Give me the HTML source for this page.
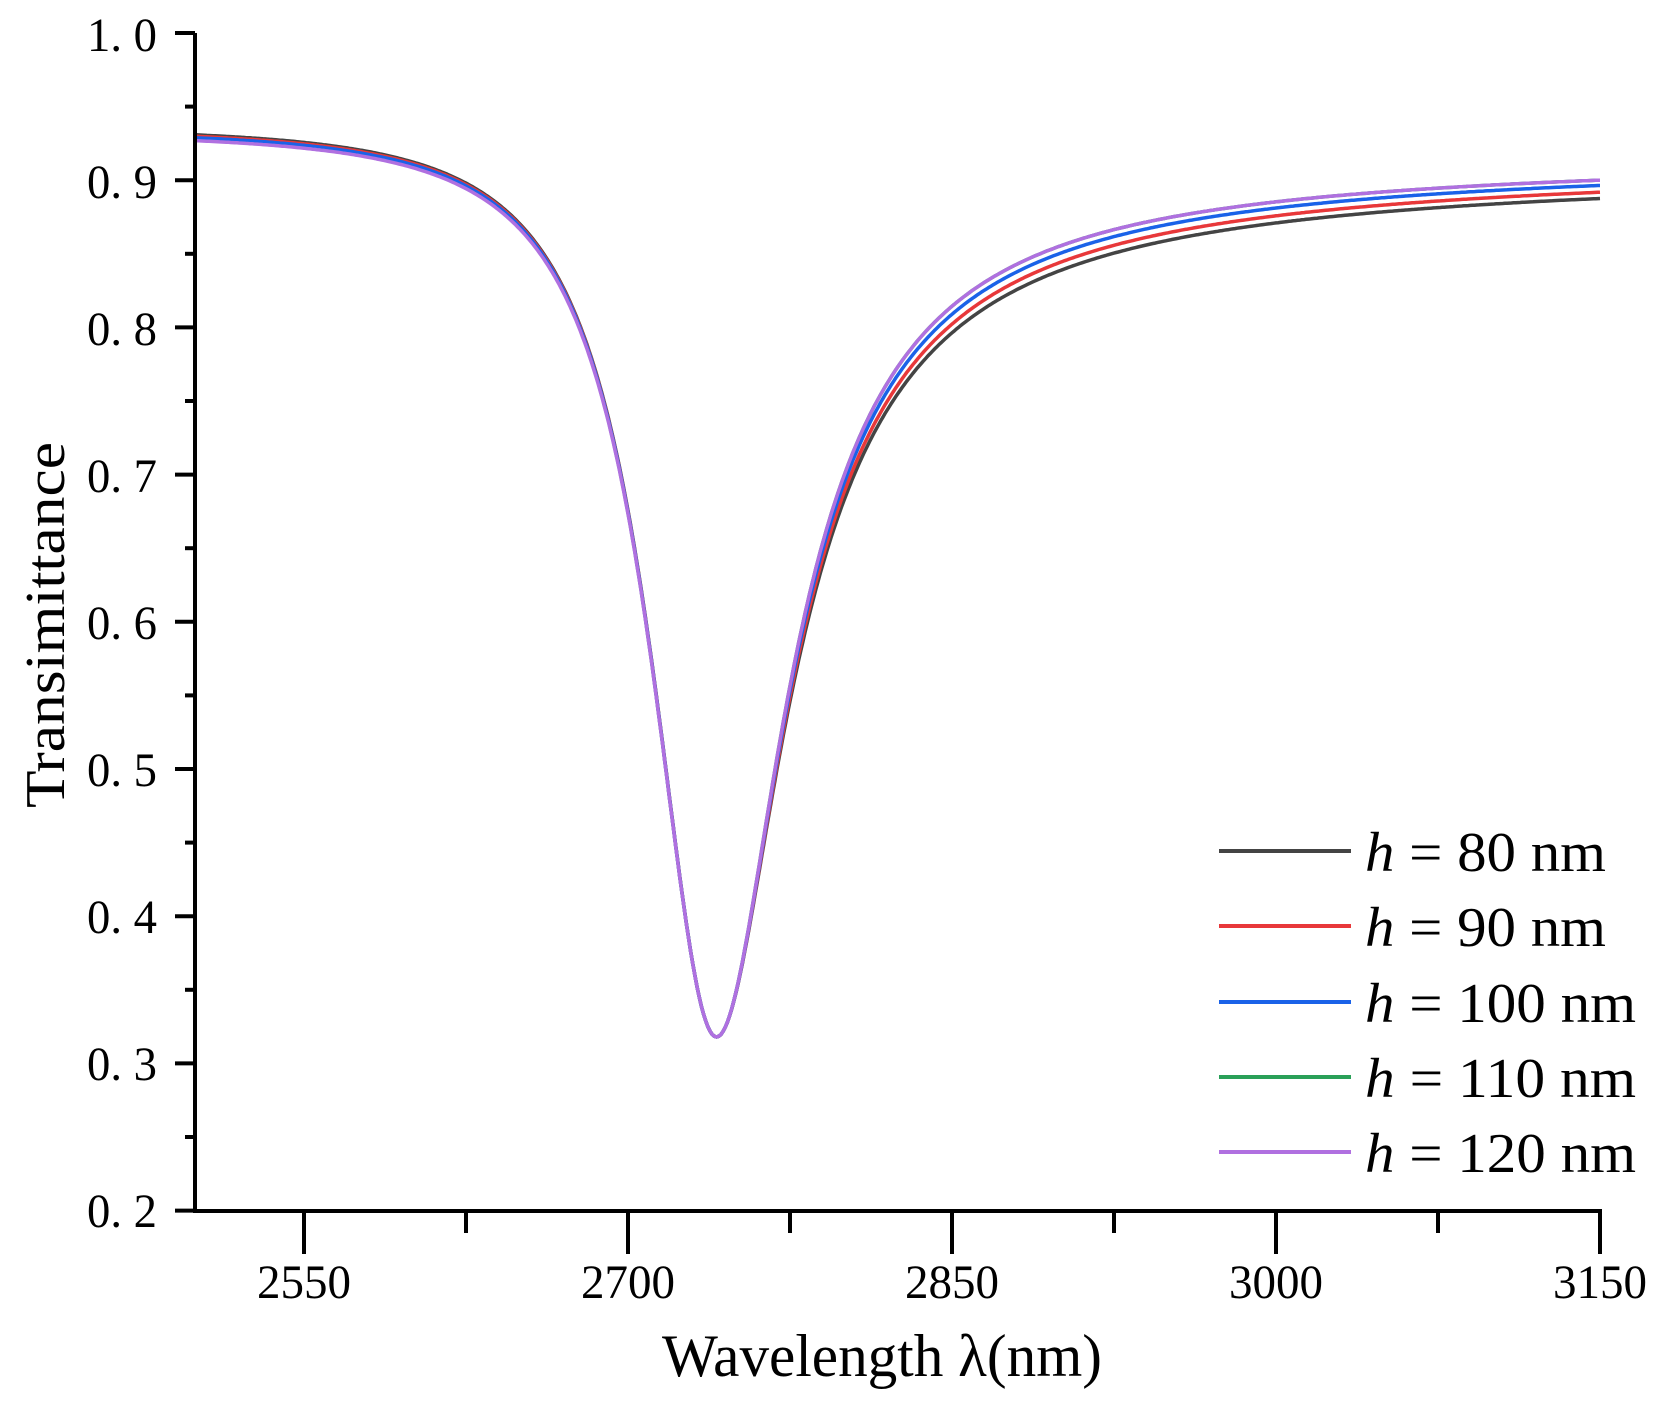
<!DOCTYPE html>
<html><head><meta charset="utf-8"><style>
html,body{margin:0;padding:0;background:#fff;}
svg{display:block;font-family:"Liberation Serif",serif;}
</style></head><body>
<svg id="s" width="1662" height="1410" viewBox="0 0 1662 1410" xmlns="http://www.w3.org/2000/svg">
<g font-size="48" fill="#000" text-anchor="end">
<text x="157" y="51" textLength="70" lengthAdjust="spacingAndGlyphs">1. 0</text>
<text x="157" y="198" textLength="70" lengthAdjust="spacingAndGlyphs">0. 9</text>
<text x="157" y="345" textLength="70" lengthAdjust="spacingAndGlyphs">0. 8</text>
<text x="157" y="492" textLength="70" lengthAdjust="spacingAndGlyphs">0. 7</text>
<text x="157" y="639" textLength="70" lengthAdjust="spacingAndGlyphs">0. 6</text>
<text x="157" y="786" textLength="70" lengthAdjust="spacingAndGlyphs">0. 5</text>
<text x="157" y="933" textLength="70" lengthAdjust="spacingAndGlyphs">0. 4</text>
<text x="157" y="1080" textLength="70" lengthAdjust="spacingAndGlyphs">0. 3</text>
<text x="157" y="1227" textLength="70" lengthAdjust="spacingAndGlyphs">0. 2</text>
</g>
<g font-size="48" text-anchor="middle">
<text x="304" y="1298" textLength="94" lengthAdjust="spacingAndGlyphs">2550</text>
<text x="628" y="1298" textLength="94" lengthAdjust="spacingAndGlyphs">2700</text>
<text x="952" y="1298" textLength="94" lengthAdjust="spacingAndGlyphs">2850</text>
<text x="1276" y="1298" textLength="94" lengthAdjust="spacingAndGlyphs">3000</text>
<text x="1600" y="1298" textLength="94" lengthAdjust="spacingAndGlyphs">3150</text>
</g>
<text x="882" y="1376" font-size="60" text-anchor="middle" textLength="440" lengthAdjust="spacingAndGlyphs">Wavelength λ(nm)</text>
<text transform="translate(64,625) rotate(-90)" font-size="56" text-anchor="middle" textLength="366" lengthAdjust="spacingAndGlyphs">Transimittance</text>
<g id="curves" fill="none" stroke-width="3.5"></g>
<g stroke="#000" stroke-width="4" fill="none" id="ax">
<path d="M195,33 V1211 H1602"/>
</g>
<g font-size="56">
<line x1="1219" y1="851" x2="1351" y2="851" stroke="#444" stroke-width="4"/>
<line x1="1219" y1="926" x2="1351" y2="926" stroke="#e8383a" stroke-width="4"/>
<line x1="1219" y1="1002" x2="1351" y2="1002" stroke="#1a62e8" stroke-width="4"/>
<line x1="1219" y1="1077" x2="1351" y2="1077" stroke="#2aa058" stroke-width="4"/>
<line x1="1219" y1="1152" x2="1351" y2="1152" stroke="#b070e0" stroke-width="4"/>
<text x="1365" y="871" textLength="241" lengthAdjust="spacingAndGlyphs"><tspan font-style="italic">h</tspan> = 80 nm</text>
<text x="1365" y="946" textLength="241" lengthAdjust="spacingAndGlyphs"><tspan font-style="italic">h</tspan> = 90 nm</text>
<text x="1365" y="1022" textLength="271" lengthAdjust="spacingAndGlyphs"><tspan font-style="italic">h</tspan> = 100 nm</text>
<text x="1365" y="1097" textLength="271" lengthAdjust="spacingAndGlyphs"><tspan font-style="italic">h</tspan> = 110 nm</text>
<text x="1365" y="1172" textLength="271" lengthAdjust="spacingAndGlyphs"><tspan font-style="italic">h</tspan> = 120 nm</text>
</g>
</svg>
<script>
var ax=document.getElementById('ax');
function L(x1,y1,x2,y2){var p=document.createElementNS('http://www.w3.org/2000/svg','line');p.setAttribute('x1',x1);p.setAttribute('y1',y1);p.setAttribute('x2',x2);p.setAttribute('y2',y2);ax.appendChild(p);}
for(var i=0;i<=16;i++){var y=33+i*73.6;L(i%2?185:175,y,195,y);}
for(var i=0;i<=8;i++){var x=304+i*162;L(x,1211,x,i%2?1233:1254);}
var X=function(l){return 304+(l-2550)*324/150;},Y=function(t){return 33+(1-t)*1472;};
var cols=['#444','#e8383a','#1a62e8','#2aa058','#b070e0'];
var coef=[0.18,0.165,0.148,0.134,0.134];
var g=document.getElementById('curves');
[0,1,3,2,4].forEach(function(k){
 var d='';
 for(var l=2499;l<=3150;l+=1){
  var dl=l-2741,w,base;
  if(dl<0){w=Math.max(18,38+0.075*dl);base=0.935-0.001*k;}
  else{w=38+coef[k]*dl;base=0.93;}
  var t=base-(base-0.318)/(1+(dl/w)*(dl/w));
  d+=(d?'L':'M')+X(l).toFixed(1)+','+Y(t).toFixed(1);
 }
 var p=document.createElementNS('http://www.w3.org/2000/svg','path');
 p.setAttribute('d',d);p.setAttribute('stroke',cols[k]);g.appendChild(p);
});
</script>
</body></html>
